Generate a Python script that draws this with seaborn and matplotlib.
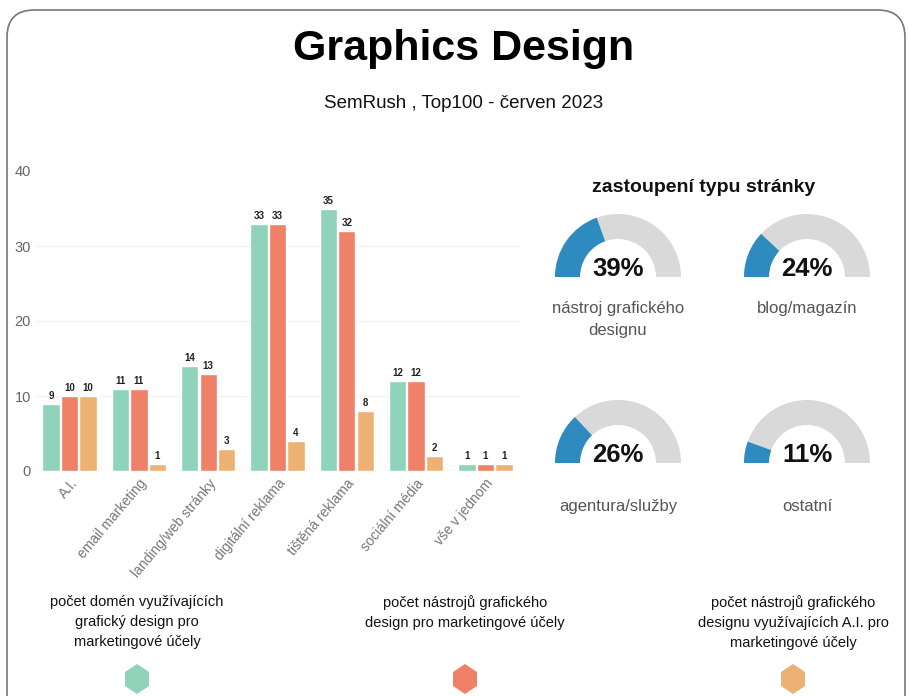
import numpy as np
import pandas as pd
import matplotlib
matplotlib.use("Agg")
import matplotlib.pyplot as plt
from matplotlib.patches import Wedge, FancyBboxPatch, Polygon
import seaborn as sns

# ---- data ----
categories = ["A.I.", "email marketing", "landing/web stránky", "digitální reklama",
              "tištěná reklama", "sociální média", "vše v jednom"]
series_names = ["počet domén využívajících\ngrafický design pro\nmarketingové účely",
                "počet nástrojů grafického\ndesign pro marketingové účely",
                "počet nástrojů grafického\ndesignu využívajících A.I. pro\nmarketingové účely"]
domains = [9, 11, 14, 33, 35, 12, 1]
tools = [10, 11, 13, 33, 32, 12, 1]
tools_ai = [10, 1, 3, 4, 8, 2, 1]

gauge_labels = ["nástroj grafického\ndesignu", "blog/magazín", "agentura/služby", "ostatní"]
gauge_values = [39, 24, 26, 11]

colors = ["#8FD3BA", "#EF8169", "#EDB173"]
blue = "#2E8BC0"
grey_ring = "#D9D9D9"

sns.set_theme(style="white")
plt.rcParams["font.family"] = ["Liberation Sans", "DejaVu Sans"]

W, H = 909, 696
fig = plt.figure(figsize=(W / 100, H / 100), dpi=100)
fig.patch.set_facecolor("white")

# rounded frame
frame = FancyBboxPatch((7 / W, -40 / H), 898 / W, (H - 10 + 40) / H,
                       boxstyle="round,pad=0,rounding_size=0.03",
                       transform=fig.transFigure, facecolor="none",
                       edgecolor="#777777", linewidth=1.2, mutation_aspect=W / H)
fig.patches.append(frame)

def fx(px):
    return px / W

def fy(py):
    return 1 - py / H

# ---- bar chart ----
df = pd.DataFrame({
    "kategorie": categories * 3,
    "hodnota": domains + tools + tools_ai,
    "serie": [s for s in series_names for _ in categories],
})

ax = fig.add_axes([fx(35), fy(471), fx(520) - fx(35), fy(171) - fy(471)])
sns.barplot(data=df, x="kategorie", y="hodnota", hue="serie", palette=colors,
            width=0.8, gap=0.06, ax=ax, legend=False, saturation=1)
ax.set_ylim(0, 40)
ax.set_xlim(-0.5, 6.5)
ax.set_yticks([0, 10, 20, 30, 40])
for v in [10, 20, 30]:
    ax.axhline(v, color="#F2F2F2", lw=0.8, zorder=0)
ax.axhline(0, color="#E2E2E2", lw=1, zorder=0)
for s in ax.spines.values():
    s.set_visible(False)
ax.set_xlabel("")
ax.set_ylabel("")
ax.tick_params(axis="y", colors="#666666", labelsize=10.5, length=0, pad=3)
ax.tick_params(axis="x", colors="#777777", labelsize=10, length=0, pad=4)
plt.setp(ax.get_xticklabels(), rotation=50, ha="right", rotation_mode="anchor")
for cont in ax.containers:
    ax.bar_label(cont, fontsize=7, fontweight="bold", color="#222222", padding=2)
ax.set_facecolor("none")

# ---- gauges ----
gax = fig.add_axes([0, 0, 1, 1])
gax.set_xlim(0, W)
gax.set_ylim(0, H)
gax.set_aspect("equal")
gax.axis("off")
gax.patch.set_alpha(0)

gax.text(704, H - 188, "zastoupení typu stránky", ha="center", va="center",
         fontsize=14, fontweight="bold", color="#111111")

centers = [(618, 277), (807, 277), (618, 463), (807, 463)]
label_gap = [24, 24, 36, 36]
R, ring = 63, 25
for (cx, cy), gap, val, lab in zip(centers, label_gap, gauge_values, gauge_labels):
    yy = H - cy
    gax.add_patch(Wedge((cx, yy), R, 0, 180, width=ring, facecolor=grey_ring, edgecolor="none"))
    gax.add_patch(Wedge((cx, yy), R, 180 - 180 * val / 100, 180, width=ring,
                        facecolor=blue, edgecolor="none"))
    gax.text(cx, yy + 8, f"{val}%", ha="center", va="center", fontsize=18.5,
             fontweight="bold", color="#111111")
    gax.text(cx, yy - gap, lab, ha="center", va="top", fontsize=12,
             color="#555555", linespacing=1.6)

# ---- title ----
gax.text(W / 2 + 9, H - 49, "Graphics Design", ha="center", va="center",
         fontsize=31, fontweight="bold", color="black")
gax.text(W / 2 + 9, H - 104, "SemRush , Top100 - červen 2023", ha="center", va="center",
         fontsize=13.5, color="#111111")

# ---- legend ----
leg_x = [137, 465, 793]
hexagon = np.array([[0, 15], [12, 7], [12, -7], [0, -15], [-12, -7], [-12, 7]])
for x, name, c in zip(leg_x, series_names, colors):
    gax.text(x, H - 595, name, ha="center", va="top", fontsize=10.5,
             color="#111111", linespacing=1.55)
    gax.add_patch(Polygon(hexagon + [x, H - 679], closed=True, facecolor=c,
                          edgecolor="none", joinstyle="round"))

fig.savefig("out.png", dpi=100)
